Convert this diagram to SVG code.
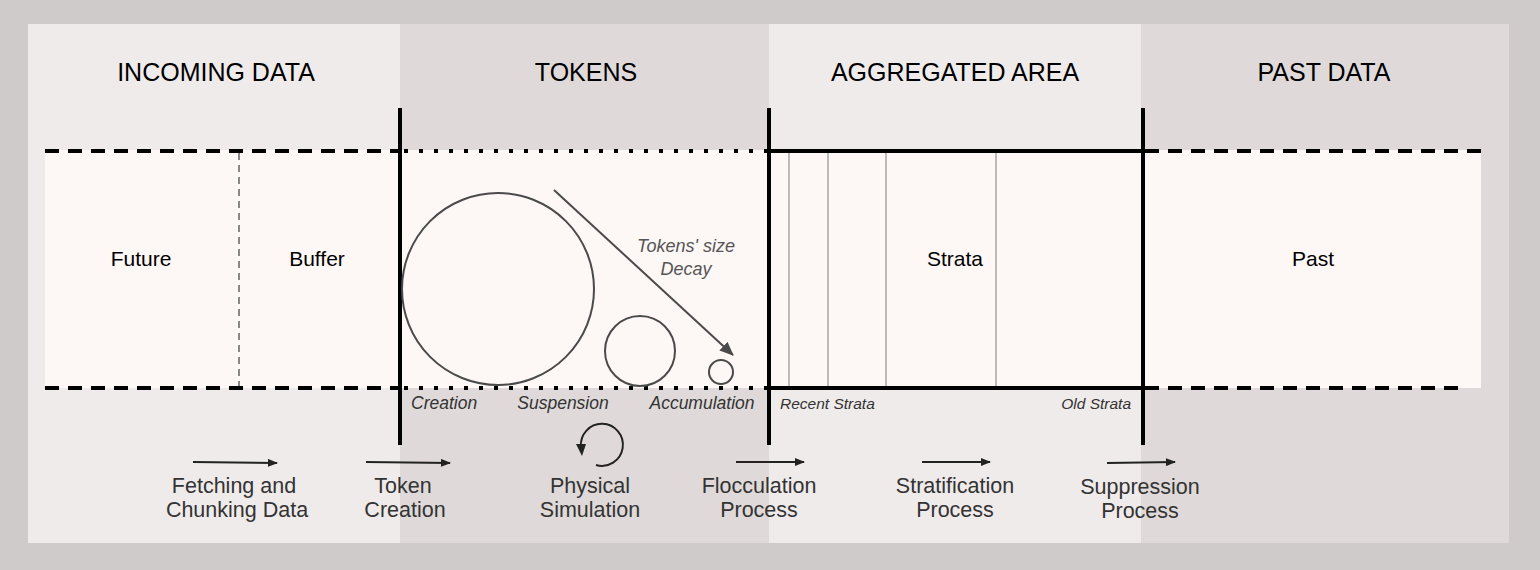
<svg xmlns="http://www.w3.org/2000/svg" width="1540" height="570" viewBox="0 0 1540 570">
<defs>
<style>
text{font-family:"Liberation Sans",Arial,sans-serif}
.hdr{font-size:25px;fill:#000;text-anchor:middle}
.lbl{font-size:21px;fill:#000;text-anchor:middle}
.proc{font-size:21.5px;fill:#333;text-anchor:middle}
.it{font-style:italic;fill:#333;font-size:17.5px}
.dec{font-style:italic;fill:#555;font-size:18px;text-anchor:middle}
.sm{font-style:italic;fill:#333;font-size:15.5px}
.thick{stroke:#000;stroke-width:4;fill:none}
.dash{stroke:#000;stroke-width:4;stroke-dasharray:14 9;fill:none}
.dot{stroke:#000;stroke-width:4;stroke-dasharray:4 11;fill:none}
.strat{stroke:#bbb;stroke-width:2}
.circ{fill:none;stroke:#4a4a4a;stroke-width:2}
.arr{stroke:#222;stroke-width:2;fill:none;marker-end:url(#ah)}
</style>
<marker id="ah" markerWidth="10" markerHeight="8" refX="9" refY="4" orient="auto" markerUnits="userSpaceOnUse">
<path d="M0,0 L10,4 L0,8 z" fill="#222"/>
</marker>
<marker id="ah2" markerWidth="14" markerHeight="12" refX="13" refY="6" orient="auto" markerUnits="userSpaceOnUse">
<path d="M0,0 L14,6 L0,12 z" fill="#4a4a4a"/>
</marker>
</defs>
<rect x="0" y="0" width="1540" height="570" fill="#cfcbca"/>
<g id="panels">
<rect x="28" y="24" width="372" height="519" fill="#f0ebeb"/>
<rect x="400" y="24" width="369" height="519" fill="#dfdad9"/>
<rect x="769" y="24" width="372" height="519" fill="#f0ebeb"/>
<rect x="1141" y="24" width="368" height="519" fill="#dfdad9"/>
</g>
<g id="band">
<rect x="45" y="150" width="1436" height="238" fill="#fdf7f6"/>
</g>
<g id="headers">
<text class="hdr" x="216" y="81">INCOMING DATA</text>
<text class="hdr" x="586" y="81">TOKENS</text>
<text class="hdr" x="955" y="81">AGGREGATED AREA</text>
<text class="hdr" x="1324" y="81">PAST DATA</text>
</g>
<g id="boundaries">
<line class="dash" x1="45" y1="151" x2="400" y2="151"/>
<line class="dash" x1="45" y1="388" x2="400" y2="388"/>
<line class="dot" x1="404" y1="151" x2="769" y2="151"/>
<line class="dot" x1="404" y1="388" x2="769" y2="388"/>
<line class="thick" x1="769" y1="151" x2="1143" y2="151"/>
<line class="thick" x1="769" y1="388" x2="1143" y2="388"/>
<line class="dash" x1="1145" y1="151" x2="1481" y2="151"/>
<line class="dash" x1="1145" y1="388" x2="1460" y2="388"/>
<line x1="239" y1="153" x2="239" y2="386" stroke="#888" stroke-width="2" stroke-dasharray="7 5"/>
<line class="thick" x1="400" y1="108" x2="400" y2="445"/>
<line class="thick" x1="769" y1="108" x2="769" y2="445"/>
<line class="thick" x1="1143" y1="108" x2="1143" y2="445"/>
<line class="strat" x1="789" y1="153" x2="789" y2="386"/>
<line class="strat" x1="828" y1="153" x2="828" y2="386"/>
<line class="strat" x1="886" y1="153" x2="886" y2="386"/>
<line class="strat" x1="996" y1="153" x2="996" y2="386"/>
</g>
<g id="zone-labels">
<text class="lbl" x="141" y="266">Future</text>
<text class="lbl" x="317" y="266">Buffer</text>
<text class="lbl" x="955" y="266">Strata</text>
<text class="lbl" x="1313" y="266">Past</text>
</g>
<g id="tokens">
<circle class="circ" cx="498" cy="289" r="96"/>
<circle class="circ" cx="640" cy="351" r="35"/>
<circle class="circ" cx="721" cy="372" r="12"/>
<line x1="554" y1="190" x2="733" y2="355" stroke="#4a4a4a" stroke-width="2" marker-end="url(#ah2)"/>
<text class="dec" x="686" y="252">Tokens' size</text>
<text class="dec" x="686" y="275">Decay</text>
</g>
<g id="sub-labels">
<text class="it" x="411" y="409">Creation</text>
<text class="it" x="563" y="409" text-anchor="middle">Suspension</text>
<text class="it" x="702" y="409" text-anchor="middle">Accumulation</text>
<text class="sm" x="780" y="409">Recent Strata</text>
<text class="sm" x="1131" y="409" text-anchor="end">Old Strata</text>
</g>
<g id="connectors">
<line class="arr" x1="193" y1="462" x2="277" y2="463"/>
<line class="arr" x1="366" y1="462" x2="450" y2="463"/>
<path d="M596,465 A21,21 0 1 0 581,447" stroke="#222" stroke-width="2" fill="none"/>
<path d="M576,444 L586,444 L582,456 z" fill="#222"/>
<line class="arr" x1="736" y1="462" x2="804" y2="462"/>
<line class="arr" x1="922" y1="462" x2="990" y2="462"/>
<line class="arr" x1="1107" y1="463" x2="1175" y2="462"/>
</g>
<g id="process-labels">
<text class="proc" x="234" y="493">Fetching and</text>
<text class="proc" x="237" y="517">Chunking Data</text>
<text class="proc" x="403" y="493">Token</text>
<text class="proc" x="405" y="517">Creation</text>
<text class="proc" x="590" y="493">Physical</text>
<text class="proc" x="590" y="517">Simulation</text>
<text class="proc" x="759" y="493">Flocculation</text>
<text class="proc" x="759" y="517">Process</text>
<text class="proc" x="955" y="493">Stratification</text>
<text class="proc" x="955" y="517">Process</text>
<text class="proc" x="1140" y="494">Suppression</text>
<text class="proc" x="1140" y="518">Process</text>
</g>
</svg>
